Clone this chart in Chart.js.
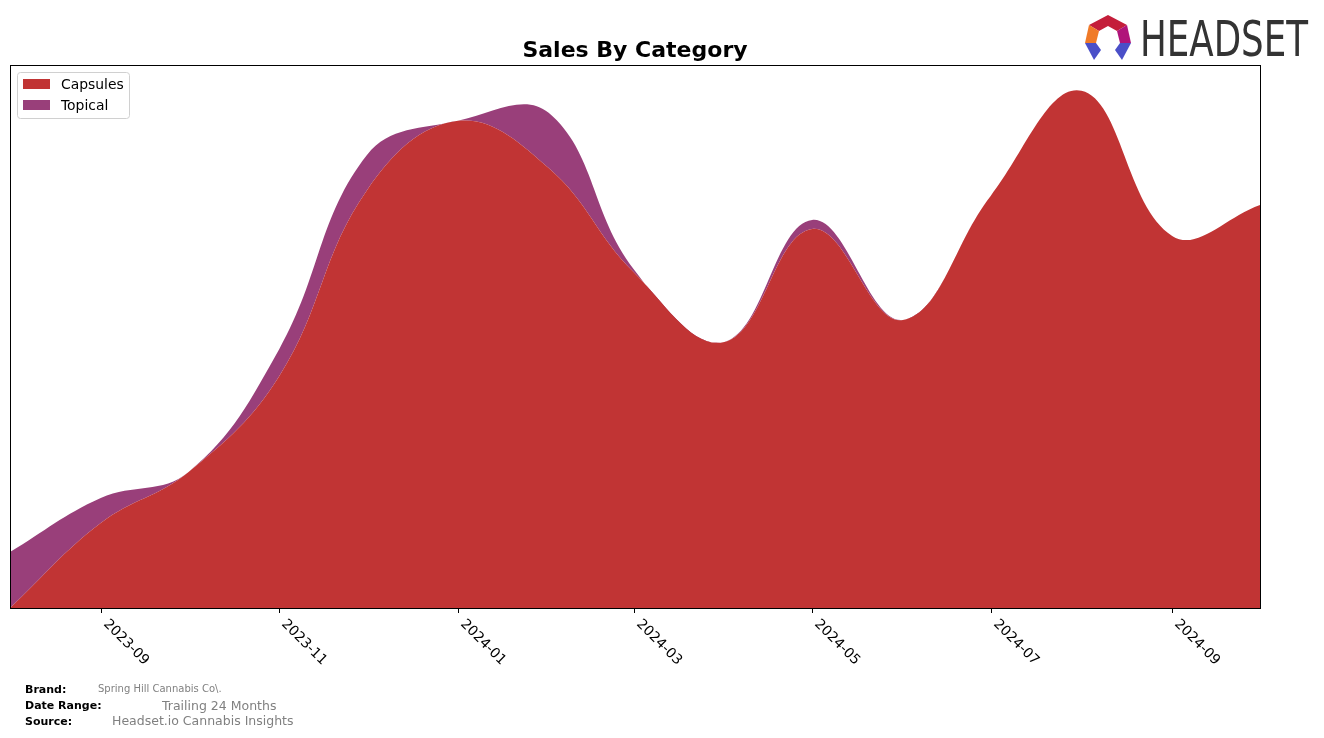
<!DOCTYPE html>
<html>
<head>
<meta charset="utf-8">
<script src="https://cdn.jsdelivr.net/npm/chart.js@4/dist/chart.umd.min.js"></script>
<style>
  html, body { margin: 0; padding: 0; background: #fff; }
  #wrap { position: relative; width: 1324px; height: 738px; }
  canvas { position: absolute; left: 0; top: 0; }
  .foot { position: absolute; font-family: "DejaVu Sans", sans-serif; white-space: nowrap; }
  .lbl { font-weight: bold; font-size: 11px; color: #000; left: 25px; }
  .val { color: #808080; }
</style>
</head>
<body>
<div id="wrap">
  <canvas id="chart" width="1324" height="738"></canvas>
  <div class="foot lbl" style="top:683px">Brand:</div>
  <div class="foot val" style="top:683px;left:98px;font-size:10px">Spring Hill Cannabis Co\.</div>
  <div class="foot lbl" style="top:699px">Date Range:</div>
  <div class="foot val" style="top:698px;left:162px;font-size:12.5px">Trailing 24 Months</div>
  <div class="foot lbl" style="top:715px">Source:</div>
  <div class="foot val" style="top:713px;left:112px;font-size:12.5px">Headset.io Cannabis Insights</div>
</div>
<script>
// monthly sales (arbitrary units)
const months = ['2023-08', '2023-09', '2023-10', '2023-11', '2023-12', '2024-01', '2024-02',
                '2024-03', '2024-04', '2024-05', '2024-06', '2024-07', '2024-08', '2024-09', '2024-10'];
const capsules = [0, 85, 136, 232, 418, 487, 440, 336, 266, 379, 288, 412, 517, 372, 403];
const topical = [56, 25, 0, 27, 35, 0, 55, 3, 0, 9, 0, 0, 0, 0, 0];
const tickLabels = ['2023-09', '2023-11', '2024-01', '2024-03', '2024-05', '2024-07', '2024-09'];

const start = Date.parse(months[0] + '-01');
const dayOf = m => (Date.parse(m + '-01') - start) / 86400000;
const xs = months.map(dayOf);
const totals = capsules.map((v, i) => v + topical[i]);

const ctx = document.getElementById('chart').getContext('2d');

const decor = {
  id: 'decor',
  afterDraw(chart) {
    const c = chart.ctx, a = chart.chartArea, sx = chart.scales.x;
    c.save();
    // frame
    c.strokeStyle = '#000';
    c.lineWidth = 1;
    c.strokeRect(Math.round(a.left) + 0.5, Math.round(a.top) + 0.5, Math.round(a.right - a.left), Math.round(a.bottom - a.top));
    // ticks + rotated labels
    c.font = '13.9px "DejaVu Sans", sans-serif';
    c.fillStyle = '#000';
    c.textBaseline = 'top';
    c.textAlign = 'left';
    tickLabels.forEach(t => {
      const px = Math.round(sx.getPixelForValue(dayOf(t))) + 0.5;
      c.beginPath();
      c.moveTo(px, a.bottom);
      c.lineTo(px, a.bottom + 5);
      c.stroke();
      c.save();
      c.translate(px + 9, a.bottom + 9);
      c.rotate(Math.PI / 4);
      c.fillText(t, 0, 0);
      c.restore();
    });
    // title
    c.font = 'bold 22px "DejaVu Sans", sans-serif';
    c.textAlign = 'center';
    c.textBaseline = 'alphabetic';
    c.fillText('Sales By Category', (a.left + a.right) / 2, 57);
    // legend
    const lx = 17, ly = 72;
    c.fillStyle = 'rgba(255,255,255,0.8)';
    c.strokeStyle = '#d0d0d0';
    c.beginPath();
    c.roundRect(lx + 0.5, ly + 0.5, 112, 46, 3);
    c.fill();
    c.stroke();
    c.font = '13.9px "DejaVu Sans", sans-serif';
    c.textAlign = 'left';
    c.textBaseline = 'middle';
    chart.data.datasets.forEach((d, i) => {
      const y = ly + 12 + i * 21;
      c.fillStyle = d.backgroundColor;
      c.fillRect(lx + 6, y - 5, 27, 10);
      c.fillStyle = '#000';
      c.fillText(d.label, lx + 44, y + 1);
    });
    // logo icon
    const cx = 1108, cy = 37;
    c.fillStyle = '#c41e3a';
    c.beginPath();
    c.moveTo(cx, cy - 22); c.lineTo(cx + 19, cy - 12); c.lineTo(cx + 9, cy - 6); c.lineTo(cx, cy - 11); c.lineTo(cx - 9, cy - 6); c.lineTo(cx - 19, cy - 12);
    c.closePath(); c.fill();
    c.fillStyle = '#b0147a';
    c.beginPath();
    c.moveTo(cx + 19, cy - 12); c.lineTo(cx + 23, cy + 6); c.lineTo(cx + 12, cy + 6); c.lineTo(cx + 9, cy - 6);
    c.closePath(); c.fill();
    c.fillStyle = '#f07a28';
    c.beginPath();
    c.moveTo(cx - 19, cy - 12); c.lineTo(cx - 23, cy + 6); c.lineTo(cx - 12, cy + 6); c.lineTo(cx - 9, cy - 6);
    c.closePath(); c.fill();
    c.fillStyle = '#4a4fc8';
    c.beginPath();
    c.moveTo(cx + 23, cy + 6); c.lineTo(cx + 14, cy + 23); c.lineTo(cx + 7, cy + 13); c.lineTo(cx + 12, cy + 6);
    c.closePath(); c.fill();
    c.beginPath();
    c.moveTo(cx - 23, cy + 6); c.lineTo(cx - 14, cy + 23); c.lineTo(cx - 7, cy + 13); c.lineTo(cx - 12, cy + 6);
    c.closePath(); c.fill();
    // logo text
    c.fillStyle = '#333';
    c.font = '50px "Liberation Sans Narrow", "DejaVu Sans Condensed", sans-serif';
    c.textAlign = 'left';
    c.textBaseline = 'alphabetic';
    const w = c.measureText('HEADSET').width;
    c.save();
    c.translate(1140, 56);
    c.scale(168 / w, 1);
    c.fillText('HEADSET', 0, 0);
    c.restore();
    c.restore();
  }
};

new Chart(ctx, {
  type: 'line',
  data: {
    datasets: [{
      label: 'Capsules',
      data: xs.map((x, i) => ({ x: x, y: capsules[i] })),
      backgroundColor: '#c13434',
      borderColor: '#c13434',
      borderWidth: 0,
      fill: 'origin',
      pointRadius: 0,
      tension: 0.4
    }, {
      label: 'Topical',
      data: xs.map((x, i) => ({ x: x, y: topical[i] })),
      backgroundColor: '#993f7a',
      borderColor: '#993f7a',
      borderWidth: 0,
      fill: '-1',
      pointRadius: 0,
      tension: 0.4
    }]
  },
  options: {
    responsive: false,
    animation: false,
    layout: { padding: { left: 10, right: 64, top: 65, bottom: 130 } },
    plugins: { legend: { display: false }, tooltip: { enabled: false }, title: { display: false } },
    scales: {
      x: { type: 'linear', display: false, min: xs[0], max: xs[xs.length - 1] },
      y: { display: false, stacked: true, min: 0, max: Math.max(...totals) * 1.05 }
    }
  },
  plugins: [decor]
});
</script>
</body>
</html>
